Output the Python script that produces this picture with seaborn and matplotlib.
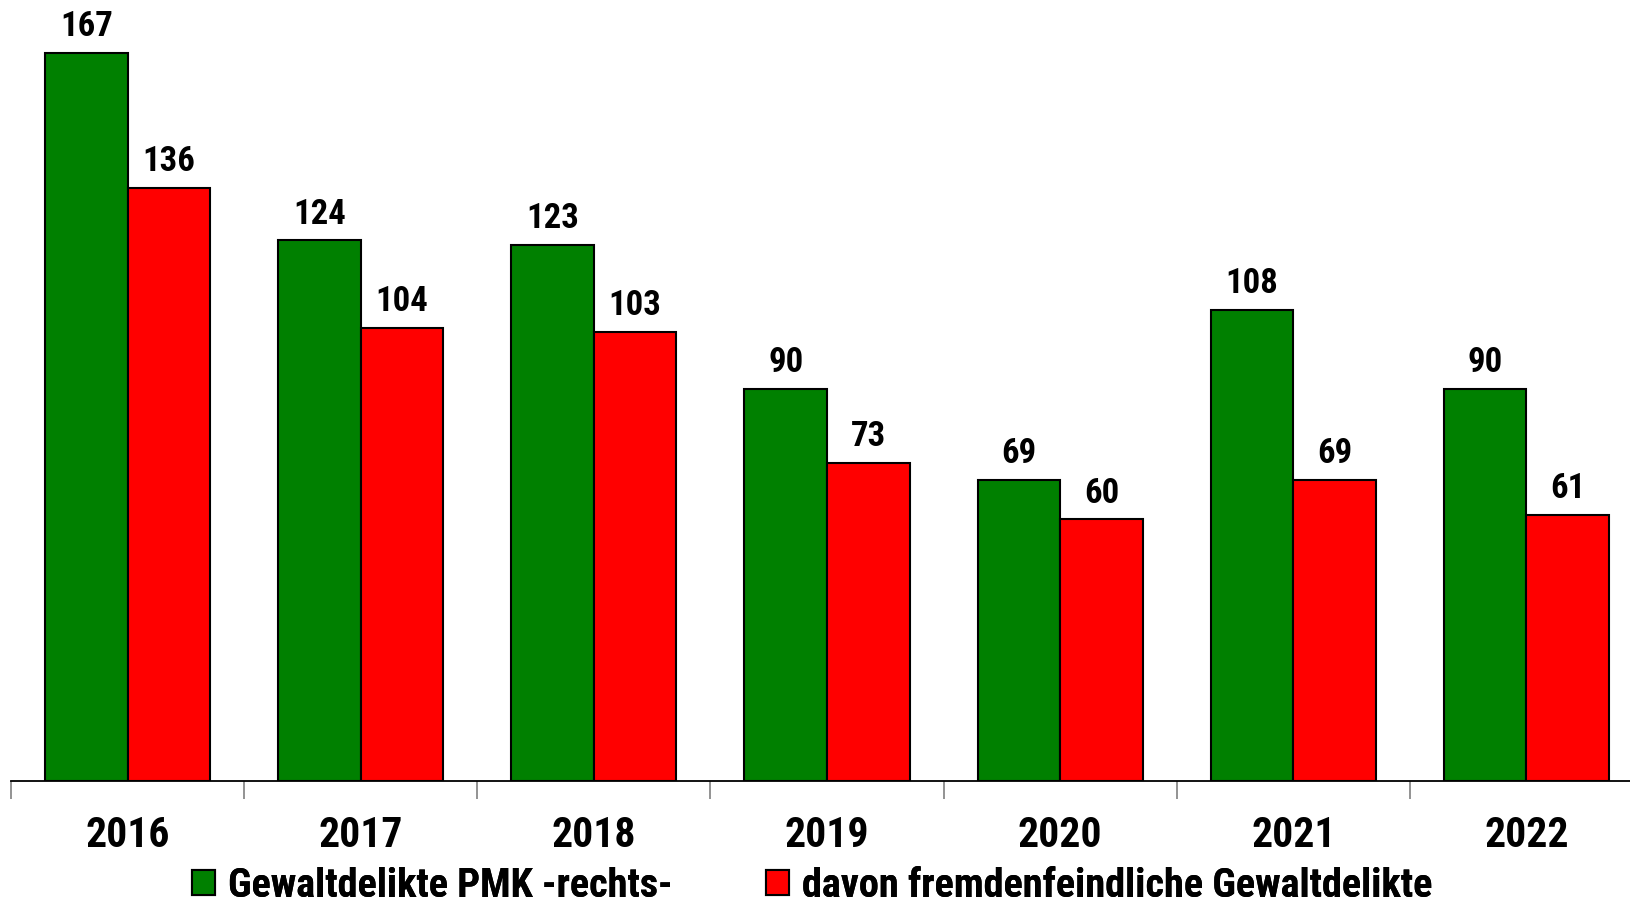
import matplotlib
matplotlib.use("Agg")
import matplotlib.pyplot as plt
import matplotlib.patches as mpatches
import seaborn as sns
import pandas as pd
from matplotlib.ticker import FixedLocator

# data
years = ["2016", "2017", "2018", "2019", "2020", "2021", "2022"]
gewalt_rechts = [167, 124, 123, 90, 69, 108, 90]
fremdenfeindlich = [136, 104, 103, 73, 60, 69, 61]
series_names = ["Gewaltdelikte PMK -rechts-", "davon fremdenfeindliche Gewaltdelikte"]
colors = ["#008000", "#FF0000"]

df = pd.DataFrame({
    "Jahr": years * 2,
    "Anzahl": gewalt_rechts + fremdenfeindlich,
    "Reihe": [series_names[0]] * len(years) + [series_names[1]] * len(years),
})

sns.set_style("white")
# narrow bold sans, close to Arial Narrow Bold
plt.rcParams["font.family"] = ["Roboto Condensed", "DejaVu Sans"]
plt.rcParams["font.stretch"] = "condensed"
plt.rcParams["font.weight"] = "bold"
plt.rcParams["text.color"] = "black"
plt.rcParams["xtick.color"] = "black"

W, H = 1630, 910
fig = plt.figure(figsize=(W / 100, H / 100), dpi=100)
ax = fig.add_axes([11 / W, 1 - 780.7 / H, 1632 / W, 780.7 / H])

sns.barplot(data=df, x="Jahr", y="Anzahl", hue="Reihe", palette=colors,
            saturation=1, width=0.708, gap=0, edgecolor="black", linewidth=1.5,
            legend=False, ax=ax)

for cont in ax.containers:
    ax.bar_label(cont, padding=7, fontsize=25, fontweight="bold", color="black")

ax.set_xlim(-0.5, len(years) - 0.5)
ax.set_ylim(0, 179.2)
ax.set_xlabel("")
ax.set_ylabel("")
ax.set_yticks([])
for s in ["top", "right", "left"]:
    ax.spines[s].set_visible(False)
ax.spines["bottom"].set_color("black")
ax.spines["bottom"].set_linewidth(1.3)

ax.tick_params(axis="x", which="major", bottom=False, length=0, pad=25,
               labelsize=30, labelcolor="black")
ax.xaxis.set_minor_locator(FixedLocator([i - 0.5 for i in range(len(years) + 1)]))
ax.tick_params(axis="x", which="minor", bottom=True, direction="out",
               length=13, width=1.2, color="#808080")
for lab in ax.get_xticklabels():
    lab.set_fontweight("bold")

# two legend entries, each placed where the reference puts it
legend_x = [192, 766]
for c, name, x in zip(colors, series_names, legend_x):
    h = mpatches.Patch(facecolor=c, edgecolor="black", linewidth=1.5)
    leg = fig.legend([h], [name], loc="center left", bbox_to_anchor=(x / W, 1 - 886 / H),
                     frameon=False, handlelength=0.57, handleheight=0.57,
                     handletextpad=0.32, borderpad=0, borderaxespad=0,
                     prop={"family": ["Roboto Condensed", "DejaVu Sans"], "stretch": "condensed",
                           "weight": "bold", "size": 29})
    fig.add_artist(leg)

fig.savefig("out.png", dpi=100)
